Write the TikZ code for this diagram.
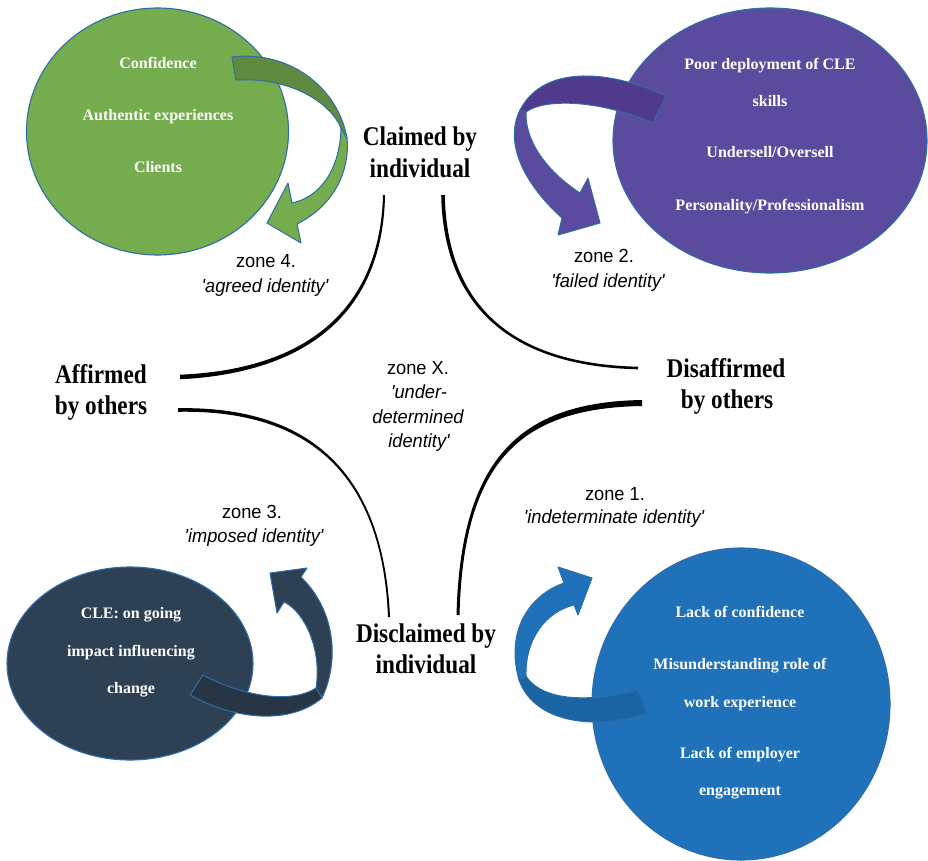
\documentclass[tikz,border=0pt]{standalone}
\usepackage{fontspec}
\setmainfont{Liberation Serif}
\newfontfamily\headfont[FakeStretch=0.86]{Liberation Serif}
\newfontfamily\zonefont[FakeStretch=0.96]{Liberation Sans}
\usetikzlibrary{shapes.geometric}
\definecolor{edgeblue}{HTML}{2E6DA8}
\definecolor{grn}{HTML}{75AC4E}
\definecolor{grndark}{HTML}{5F8A3F}
\definecolor{purp}{HTML}{5B4B9F}
\definecolor{purpdark}{HTML}{4F3A8C}
\definecolor{navy}{HTML}{2E4154}
\definecolor{navydark}{HTML}{273544}
\definecolor{blu}{HTML}{1F72B9}
\definecolor{bludark}{HTML}{1B64A4}
\begin{document}
\begin{tikzpicture}[x=1pt,y=-1pt,
  blob/.style={ellipse, draw=edgeblue, line width=1.1pt, inner sep=0pt},
  heading/.style={anchor=base, inner sep=0pt, font=\headfont\bfseries\fontsize{27}{30}\selectfont},
  zonelbl/.style={anchor=base, inner sep=0pt, font=\zonefont\fontsize{19}{22}\selectfont},
  zonequote/.style={anchor=base, inner sep=0pt, font=\zonefont\itshape\fontsize{19}{22}\selectfont},
  blobtext/.style={anchor=base, inner sep=0pt, text=white, font=\bfseries\fontsize{16}{18}\selectfont},
  ribbon/.style={draw=edgeblue, line width=1pt, line join=round}]
\useasboundingbox (0,0) rectangle (928,861);
\fill[white] (0,0) rectangle (928,861);

% ---------- ellipses ----------
\node[blob, fill=grn, minimum width=262pt, minimum height=247pt] (green) at (157.5,131.5) {};
\node[blob, fill=purp, minimum width=314pt, minimum height=265pt] (purple) at (770,140.5) {};
\node[blob, fill=navy, minimum width=246pt, minimum height=193pt] (navyblob) at (130,663.5) {};
\node[blob, fill=blu, minimum width=298pt, minimum height=312pt] (blue) at (741,704) {};

% ---------- curved arrows ----------
% green (zone 4)
\path[ribbon, fill=grn] (347,138) .. controls (350,170) and (335,205) .. (297,224)
  -- (301,243) -- (267,223) -- (288,183) -- (292,203)
  .. controls (320,197) and (340,170) .. (341,128) -- cycle;
\path[ribbon, fill=grndark] (232,57) .. controls (290,50) and (338,88) .. (347,138)
  -- (341,128) .. controls (330,102) and (290,77) .. (236,80) -- cycle;
% purple (zone 2)
\path[ribbon, fill=purp] (520,110) .. controls (505,140) and (520,180) .. (562,218)
  -- (558,235) -- (600,223) -- (588,178) -- (580,193)
  .. controls (545,170) and (525,140) .. (526,112) -- cycle;
\path[ribbon, fill=purpdark] (666,96) .. controls (615,72) and (545,62) .. (520,110)
  -- (526,112) .. controls (545,98) and (600,100) .. (653,123) -- cycle;
% navy (zone 3)
\path[ribbon, fill=navy] (322,698) .. controls (340,660) and (335,610) .. (301,577)
  -- (307,568) -- (270,573) -- (277,613) -- (284,602)
  .. controls (305,612) and (322,650) .. (316,688) -- cycle;
\path[ribbon, fill=navydark] (203,675) .. controls (240,695) and (290,705) .. (316,688)
  -- (322,698) .. controls (290,725) and (235,720) .. (190,695) -- cycle;
% blue (zone 1)
\path[ribbon, fill=blu] (519,680) .. controls (505,630) and (530,595) .. (564,583)
  -- (558,567) -- (592,578) -- (578,615) -- (574,605)
  .. controls (545,612) and (525,640) .. (526,676) -- cycle;
\path[ribbon, fill=bludark] (638,690) .. controls (600,700) and (545,705) .. (526,676)
  -- (519,680) .. controls (535,725) and (600,730) .. (647,713) -- cycle;

% ---------- hand-drawn axes ----------
\fill (385,195) .. controls (383.5,290) and (332,371.5) .. (180,379.3)
  -- (180,374.7) .. controls (328,368.5) and (380.5,290) .. (383,195) -- cycle;
\fill (441.2,195) .. controls (443.2,300) and (504,366.3) .. (638,369.3)
  -- (638,366.7) .. controls (506,363.7) and (446.8,300) .. (444.8,195) -- cycle;
\fill (178,408.2) .. controls (290,406.3) and (382.6,453.8) .. (390,617)
  -- (388,617) .. controls (381.4,456.2) and (290,409.7) .. (178,411.8) -- cycle;
\fill (642,400) .. controls (520,402) and (460.6,458.5) .. (456.5,615)
  -- (459.5,615) .. controls (463.4,461.5) and (520,408) .. (642,406) -- cycle;

% ---------- headings ----------
\node[heading] (claimed1) at (420,146) {Claimed by};
\node[heading] (claimed2) at (420,178) {individual};
\node[heading] (affirmed1) at (101,383) {Affirmed};
\node[heading] (affirmed2) at (101,414) {by others};
\node[heading] (disaff1) at (726,377) {Disaffirmed};
\node[heading] (disaff2) at (727,408) {by others};
\node[heading] (disclaimed1) at (426,642) {Disclaimed by};
\node[heading] (disclaimed2) at (426,673) {individual};

% ---------- zone labels ----------
\node[zonelbl] (z4a) at (266,267) {zone 4.};
\node[zonequote] (z4b) at (265,292) {'agreed identity'};
\node[zonelbl] (z2a) at (604,262) {zone 2.};
\node[zonequote] (z2b) at (608,287) {'failed identity'};
\node[zonelbl] (zxa) at (418,374) {zone X.};
\node[zonequote] (zxb) at (419,398) {'under-};
\node[zonequote] (zxc) at (418,423) {determined};
\node[zonequote] (zxd) at (419,447) {identity'};
\node[zonelbl] (z3a) at (252,518) {zone 3.};
\node[zonequote] (z3b) at (254,542) {'imposed identity'};
\node[zonelbl] (z1a) at (615,500) {zone 1.};
\node[zonequote] (z1b) at (614,523) {'indeterminate identity'};

% ---------- ellipse texts ----------
\node[blobtext] (g1) at (158,69) {Confidence};
\node[blobtext] (g2) at (158,121) {Authentic experiences};
\node[blobtext] (g3) at (158,173) {Clients};
\node[blobtext] (p1) at (770,70) {Poor deployment of CLE};
\node[blobtext] (p2) at (770,107) {skills};
\node[blobtext] (p3) at (770,158) {Undersell/Oversell};
\node[blobtext] (p4) at (770,210) {Personality/Professionalism};
\node[blobtext] (n1) at (131,618) {CLE: on going};
\node[blobtext] (n2) at (131,656) {impact influencing};
\node[blobtext] (n3) at (131,693) {change};
\node[blobtext] (b1) at (740,617) {Lack of confidence};
\node[blobtext] (b2) at (740,669) {Misunderstanding role of};
\node[blobtext] (b3) at (740,707) {work experience};
\node[blobtext] (b4) at (740,758) {Lack of employer};
\node[blobtext] (b5) at (740,795) {engagement};
\end{tikzpicture}
\end{document}
